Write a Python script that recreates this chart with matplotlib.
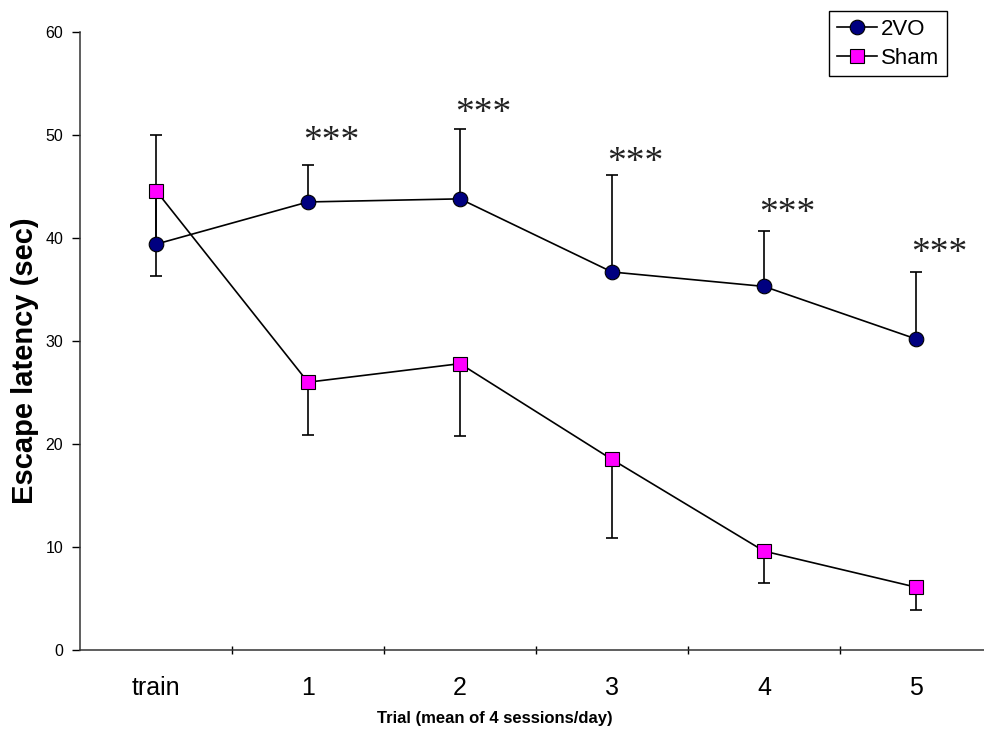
import matplotlib
matplotlib.use("Agg")
import matplotlib.pyplot as plt
import numpy as np

categories = ["train", "1", "2", "3", "4", "5"]
vo_mean = [39.4, 43.5, 43.8, 36.7, 35.3, 30.2]
vo_err_low = [3.1, 0, 0, 0, 0, 0]
vo_err_high = [5.2, 3.6, 6.8, 9.4, 5.4, 6.5]
sham_mean = [44.6, 26.0, 27.8, 18.5, 9.6, 6.1]
sham_err_low = [5.4, 5.1, 7.0, 7.6, 3.1, 2.2]
sham_err_high = [5.4, 0, 0, 0, 0, 0]
star_cats = [1, 2, 3, 4, 5]
star_y = [49.3, 52.1, 47.3, 42.4, 38.5]
yticks = [0, 10, 20, 30, 40, 50, 60]

plt.rcParams['font.family'] = ['Liberation Sans', 'DejaVu Sans']

W, H = 984, 742
fig = plt.figure(figsize=(W / 100, H / 100), dpi=100)
ax = fig.add_axes([80 / W, 92 / H, 912 / W, 618 / H])

x = np.arange(len(categories))

ax.errorbar(x, vo_mean, yerr=[vo_err_low, vo_err_high], fmt='none',
            ecolor='black', elinewidth=1.2, capsize=4, capthick=1.2, zorder=2)
ax.errorbar(x, sham_mean, yerr=[sham_err_low, sham_err_high], fmt='none',
            ecolor='black', elinewidth=1.2, capsize=4, capthick=1.2, zorder=2)

ax.plot(x, vo_mean, color='black', lw=1.2, marker='o', markersize=10.5,
        markerfacecolor='#000080', markeredgecolor='black', markeredgewidth=0.8,
        label='2VO', zorder=3)
ax.plot(x, sham_mean, color='black', lw=1.2, marker='s', markersize=9.5,
        markerfacecolor='#FF00FF', markeredgecolor='black', markeredgewidth=0.8,
        label='Sham', zorder=3)

for c, yv in zip(star_cats, star_y):
    ax.annotate('***', xy=(c, yv), xytext=(17, 0), textcoords='offset points',
                ha='center', va='center', fontsize=27,
                family=['Liberation Serif', 'DejaVu Serif'], color='#222222')

ax.set_xlim(-0.5, len(categories) - 0.5)
ax.set_ylim(0, 60)
ax.set_yticks(yticks)
ax.set_yticklabels([str(v) for v in yticks], fontsize=11.5)
ax.set_xticks(x)
ax.set_xticklabels(categories, fontsize=18)
ax.set_xticks(np.arange(0.5, len(categories) - 0.5, 1.0), minor=True)
ax.tick_params(axis='x', which='major', length=0, pad=19)
ax.tick_params(axis='x', which='minor', length=6, width=1, direction='inout')
ax.tick_params(axis='y', which='major', length=6, width=1, direction='out', pad=6)

for s in ['top', 'right']:
    ax.spines[s].set_visible(False)
for s in ['left', 'bottom']:
    ax.spines[s].set_color('#333333')
    ax.spines[s].set_linewidth(1.1)

ax.set_xlabel('Trial (mean of 4 sessions/day)', fontsize=12, fontweight='bold')
ax.xaxis.label.set_va('center')
ax.xaxis.set_label_coords((495 - 80) / 912, -(719 - 650) / 618)
ax.set_ylabel('Escape latency (sec)', fontsize=21, fontweight='bold')
ax.yaxis.label.set_va('center')
ax.yaxis.set_label_coords((25 - 80) / 912, (650 - 361) / 618)

leg = ax.legend(loc='upper right', bbox_to_anchor=(947 / W, 1 - 11 / H),
                bbox_transform=fig.transFigure, borderaxespad=0,
                fontsize=16, frameon=True, fancybox=False, framealpha=1,
                handlelength=1.8, handletextpad=0.2, borderpad=0.35,
                labelspacing=0.35)
leg.get_frame().set_edgecolor('black')
leg.get_frame().set_linewidth(1.0)

fig.savefig('out.png', dpi=100)
